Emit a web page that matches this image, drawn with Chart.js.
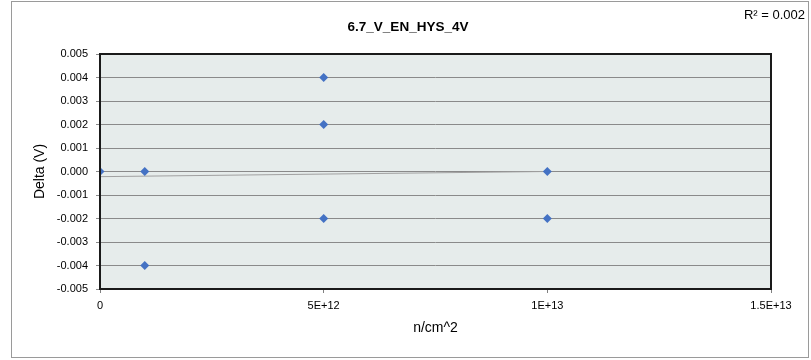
<!DOCTYPE html>
<html>
<head>
<meta charset="utf-8">
<script src="https://cdn.jsdelivr.net/npm/chart.js@4"></script>
<style>
  html, body { margin: 0; padding: 0; background: #fff; }
  canvas { display: block; }
</style>
</head>
<body>
<canvas id="chart" width="811" height="360"></canvas>
<script>
// Meetpunten
const xValues = [0, 1e12, 1e12, 5e12, 5e12, 5e12, 1e13, 1e13];
const yValues = [0, 0, -0.004, 0.004, 0.002, -0.002, 0, -0.002];

// Trendlijn
const trendX = [0, 1e13];
const trendY = [-0.00022, 0];

const xTickLabels = ['0', '5E+12', '1E+13', '1.5E+13'];
const chartTitle = '6.7_V_EN_HYS_4V';
const rSquaredText = 'R² = 0.002';

const font = "'Liberation Sans', Arial, sans-serif";

// Achtergrond, randen, titel en R²
const framePlugin = {
    id: 'frame',
    beforeDraw(chart) {
        const { ctx, chartArea: a } = chart;
        ctx.save();
        ctx.fillStyle = '#fff';
        ctx.fillRect(0, 0, chart.width, chart.height);
        ctx.strokeStyle = '#9a9a9a';
        ctx.lineWidth = 1;
        ctx.strokeRect(11.5, 1.5, 797, 356);
        ctx.fillStyle = '#e6eceb';
        ctx.fillRect(a.left, a.top, a.right - a.left, a.bottom - a.top);
        ctx.restore();
    },
    afterDatasetsDraw(chart) {
        const { ctx, chartArea: a } = chart;
        ctx.save();
        ctx.strokeStyle = '#1a1a1a';
        ctx.lineWidth = 2;
        ctx.strokeRect(a.left, a.top, a.right - a.left, a.bottom - a.top);
        ctx.restore();
    },
    afterDraw(chart) {
        const { ctx } = chart;
        ctx.save();
        ctx.fillStyle = '#000';
        ctx.textBaseline = 'middle';
        ctx.font = 'bold 13.5px ' + font;
        ctx.textAlign = 'center';
        ctx.fillText(chartTitle, 408, 27);
        ctx.font = '13px ' + font;
        ctx.textAlign = 'right';
        ctx.fillText(rSquaredText, 805, 15);
        ctx.restore();
    }
};

const ctx = document.getElementById('chart').getContext('2d');
new Chart(ctx, {
    type: 'scatter',
    data: {
        datasets: [
            {
                label: 'Delta',
                data: xValues.map((x, i) => ({ x, y: yValues[i] })),
                pointStyle: 'rectRot',
                pointRadius: 4.5,
                pointHoverRadius: 4.5,
                backgroundColor: '#4472c4',
                borderColor: '#4472c4',
                borderWidth: 0,
                showLine: false,
                order: 1
            },
            {
                label: 'Trend',
                data: trendX.map((x, i) => ({ x, y: trendY[i] })),
                showLine: true,
                pointRadius: 0,
                borderColor: '#a0a0a0',
                borderWidth: 1,
                fill: false,
                order: 2
            }
        ]
    },
    options: {
        responsive: false,
        devicePixelRatio: 1,
        animation: false,
        layout: { padding: { left: 12, right: 40, top: 54, bottom: 0 } },
        plugins: {
            legend: { display: false },
            tooltip: { enabled: false },
            title: { display: false }
        },
        scales: {
            x: {
                type: 'linear',
                min: 0,
                max: 1.5e13,
                afterFit(scale) { scale.height = 71; },
                ticks: {
                    stepSize: 5e12,
                    color: '#000',
                    padding: 6,
                    maxRotation: 0,
                    font: { family: font, size: 11 },
                    callback: (v) => xTickLabels[Math.round(v / 5e12)]
                },
                grid: { display: true, drawOnChartArea: false, drawTicks: true, tickLength: 4, color: '#808080' },
                border: { display: false },
                title: {
                    display: true,
                    text: 'n/cm^2',
                    color: '#000',
                    font: { family: font, size: 14, lineHeight: 1.2 },
                    padding: { top: 0, bottom: 23 }
                }
            },
            y: {
                min: -0.005,
                max: 0.005,
                afterFit(scale) { scale.width = 88; },
                ticks: {
                    stepSize: 0.001,
                    color: '#000',
                    padding: 8,
                    font: { family: font, size: 11 },
                    callback: (v) => Number(v).toFixed(3)
                },
                grid: { color: '#8a8a8a', lineWidth: 1, tickLength: 4 },
                border: { display: false },
                title: {
                    display: true,
                    text: 'Delta (V)',
                    color: '#000',
                    font: { family: font, size: 14, lineHeight: 1.2 },
                    padding: { top: 19.6, bottom: 0 }
                }
            }
        }
    },
    plugins: [framePlugin]
});
</script>
</body>
</html>
